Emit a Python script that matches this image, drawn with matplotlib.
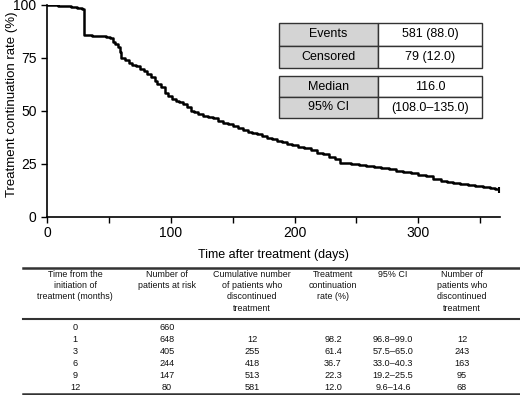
import matplotlib.pyplot as plt
from matplotlib.patches import Rectangle
from matplotlib.lines import Line2D

plt.rcParams['font.family'] = ['Liberation Sans', 'DejaVu Sans']

# Kaplan-Meier curve (days, continuation rate %)
days = [0, 4, 9, 14, 19, 24, 28, 30, 36, 42, 48, 51, 53, 55, 57, 59, 60, 63, 66, 69,
        72, 75, 78, 81, 84, 87, 89, 92, 95, 98, 101, 104, 107, 110, 113, 116, 119, 122,
        126, 130, 134, 138, 142, 146, 150, 154, 158, 162, 166, 170, 174, 178, 182, 186,
        190, 194, 198, 203, 208, 213, 218, 223, 228, 233, 237, 240, 246, 252, 258, 264,
        270, 276, 282, 288, 294, 300, 306, 312, 318, 323, 328, 334, 340, 346, 352, 358,
        362, 365]
rate = [100, 99.8, 99.6, 99.3, 99.0, 98.7, 98.2, 85.6, 85.4, 85.2, 84.9, 84.4, 82.7,
        81.5, 80.0, 77.8, 75.0, 73.9, 72.8, 71.8, 71.0, 70.0, 68.8, 67.6, 66.0, 64.3,
        62.5, 61.4, 58.4, 56.8, 55.6, 54.8, 54.2, 53.4, 51.8, 50.0, 49.3, 48.6, 47.6,
        47.0, 46.4, 45.2, 44.4, 43.6, 42.9, 42.0, 41.1, 40.1, 39.6, 38.9, 38.2, 37.4,
        36.7, 35.8, 35.2, 34.4, 33.9, 33.1, 32.3, 31.3, 30.3, 29.4, 28.4, 27.2, 25.6,
        25.2, 24.8, 24.5, 24.1, 23.4, 22.9, 22.3, 21.8, 21.0, 20.5, 19.9, 19.0, 17.9,
        16.8, 16.3, 15.9, 15.5, 15.1, 14.6, 14.2, 13.6, 13.0, 12.4]

# inset summary boxes
box1 = [('Events', '581 (88.0)'), ('Censored', '79 (12.0)')]
box2 = [('Median', '116.0'), ('95% CI', '(108.0\u2013135.0)')]

# number-at-risk table
headers = ['Time from the\ninitiation of\ntreatment (months)', 'Number of\npatients at risk',
           'Cumulative number\nof patients who\ndiscontinued\ntreatment',
           'Treatment\ncontinuation\nrate (%)', '95% CI',
           'Number of\npatients who\ndiscontinued\ntreatment']
months = ['0', '1', '3', '6', '9', '12']
at_risk = ['660', '648', '405', '244', '147', '80']
cum_disc = ['', '12', '255', '418', '513', '581']
cont_rate = ['', '98.2', '61.4', '36.7', '22.3', '12.0']
ci = ['', '96.8\u201399.0', '57.5\u201365.0', '33.0\u201340.3', '19.2\u201325.5', '9.6\u201314.6']
n_disc = ['', '12', '243', '163', '95', '68']

W, H = 520, 395
fig = plt.figure(figsize=(W / 100, H / 100), dpi=100)


def fx(px):
    return px / W


def fy(py):
    return 1 - py / H


ax = fig.add_axes([fx(47), fy(216.7), fx(500) - fx(47), fy(5) - fy(216.7)])
ax.plot(days, rate, drawstyle='steps-post', color='black', lw=1.8)
ax.plot(days[-1], rate[-1], marker='|', color='black', ms=5, mew=1.5)
ax.set_xlim(0, 366)
ax.set_ylim(0, 100)
ax.set_xticks([0, 100, 200, 300])
ax.set_xticks([50, 150, 250, 350], minor=True)
ax.set_yticks([0, 25, 50, 75, 100])
ax.tick_params(axis='both', which='both', direction='out', length=4, width=1,
               labelsize=10, colors='black')
ax.tick_params(axis='x', pad=3)
for s in ['top', 'right']:
    ax.spines[s].set_visible(False)
for s in ['left', 'bottom']:
    ax.spines[s].set_linewidth(1.2)
ax.set_ylabel('Treatment continuation rate (%)', fontsize=9.5)
ax.yaxis.set_label_coords((18 - 47) / 453, 0.53)
ax.set_xlabel('Time after treatment (days)', fontsize=9, labelpad=6)

# inset boxes
x0, xm, x1 = 279.3, 377.7, 482.3
for box, ys in [(box1, [22.7, 45.7, 68.3]), (box2, [76, 97.3, 117.7])]:
    for i, (lab, val) in enumerate(box):
        ya, yb = ys[i], ys[i + 1]
        fig.add_artist(Rectangle((fx(x0), fy(yb)), fx(xm) - fx(x0), fy(ya) - fy(yb),
                                 transform=fig.transFigure, facecolor='#d4d4d4',
                                 edgecolor='#333333', lw=1))
        fig.add_artist(Rectangle((fx(xm), fy(yb)), fx(x1) - fx(xm), fy(ya) - fy(yb),
                                 transform=fig.transFigure, facecolor='white',
                                 edgecolor='#333333', lw=1))
        fig.text(fx((x0 + xm) / 2), fy((ya + yb) / 2), lab, ha='center', va='center',
                 fontsize=9)
        fig.text(fx((xm + x1) / 2), fy((ya + yb) / 2), val, ha='center', va='center',
                 fontsize=9)

# table
for yl, lw in [(268, 1.8), (319, 1.5), (393.5, 1.8)]:
    fig.add_artist(Line2D([fx(23), fx(520)], [fy(yl), fy(yl)], transform=fig.transFigure,
                          color='#333333', lw=lw))

col_x = [75, 167, 252, 333, 393, 462]
for cx, h in zip(col_x, headers):
    fig.text(fx(cx), fy(270), h, ha='center', va='top', fontsize=6.4, linespacing=1.32,
             color='#111111')

row_y = [328, 340, 352, 364, 376, 387.5]
cols = [months, at_risk, cum_disc, cont_rate, ci, n_disc]
for cx, col in zip(col_x, cols):
    for ry, v in zip(row_y, col):
        fig.text(fx(cx), fy(ry), v, ha='center', va='center', fontsize=6.6, color='#111111')

fig.savefig('out.png', dpi=100)
